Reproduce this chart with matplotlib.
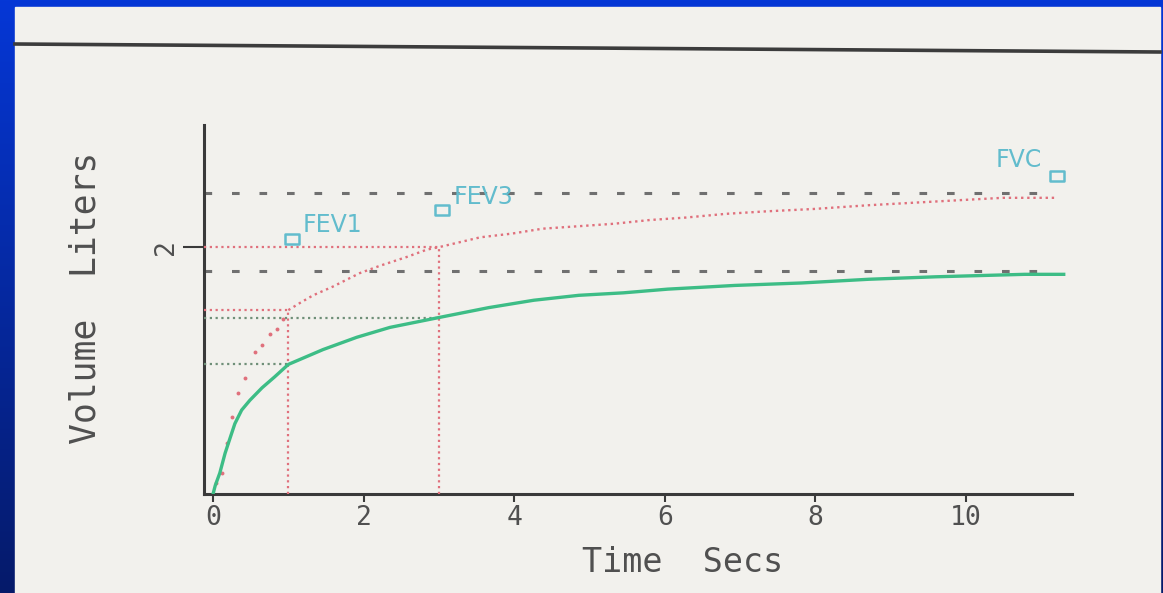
import numpy as np
import matplotlib
matplotlib.use("Agg")
import matplotlib.pyplot as plt
from matplotlib.path import Path
from matplotlib.patches import Rectangle
from matplotlib.colors import LinearSegmentedColormap

# ---------------- data ----------------
green_t = [0.00, 0.03, 0.09, 0.16, 0.23, 0.29, 0.38, 0.49, 0.65, 0.82, 1.00,
           1.46, 1.91, 2.35, 3.00, 3.66, 4.26, 4.86, 5.45, 6.04, 6.93, 7.82,
           8.71, 9.60, 10.78, 11.30]
green_v = [0.00, 0.07, 0.17, 0.33, 0.46, 0.57, 0.68, 0.76, 0.86, 0.95, 1.05,
           1.17, 1.27, 1.35, 1.43, 1.51, 1.57, 1.61, 1.63, 1.66, 1.69, 1.71,
           1.74, 1.76, 1.78, 1.78]

red_dots_t = [0.04, 0.12, 0.19, 0.25, 0.33, 0.42, 0.56, 0.65, 0.76, 0.85, 0.93]
red_dots_v = [0.09, 0.17, 0.41, 0.62, 0.82, 0.94, 1.15, 1.21, 1.30, 1.34, 1.42]

red_t = [1.00, 1.16, 1.33, 1.59, 1.95, 2.22, 2.57, 2.84, 3.00, 3.55, 3.97,
         4.38, 4.86, 5.33, 5.80, 6.28, 6.81, 7.34, 7.99, 8.71, 9.30, 9.89,
         10.49, 11.20]
red_v = [1.49, 1.55, 1.61, 1.68, 1.79, 1.85, 1.92, 1.98, 2.00, 2.08, 2.11,
         2.15, 2.17, 2.19, 2.22, 2.24, 2.27, 2.29, 2.31, 2.34, 2.36, 2.38,
         2.40, 2.40]

fev_times = [1, 3]
fev_red = [1.49, 2.00]
fev_green = [1.05, 1.43]
fvc_levels = [2.44, 1.81]
fvc_end = 11.2

marker_labels = ["FEV1", "FEV3", "FVC"]
marker_t = [1.045, 3.04, 11.21]
marker_v = [2.07, 2.30, 2.58]

x_ticks = [0, 2, 4, 6, 8, 10]
y_ticks = [2]

# ---------------- figure ----------------
W, H = 1163, 593
fig = plt.figure(figsize=(W / 100, H / 100), dpi=100)

bg = fig.add_axes([0, 0, 1, 1])
bg.axis("off")
bg.set_xlim(0, 1)
bg.set_ylim(0, 1)
grad = np.linspace(0, 1, 256).reshape(-1, 1)
cmap = LinearSegmentedColormap.from_list("b", ["#0537d6", "#061a6a"])
bg.imshow(grad, aspect="auto", cmap=cmap, extent=[0, 1, 0, 1], origin="upper")
bg.add_patch(Rectangle((15 / W, 0), (1160 - 15) / W, (H - 7) / H,
                       color="#f2f1ed", zorder=2))
bg.plot([15 / W, 1160 / W], [1 - 44 / H, 1 - 52 / H], color="#3c3c3c",
        lw=2.6, zorder=3)

ax = fig.add_axes([204 / W, 1 - 494 / H, (1072 - 204) / W, (494 - 125) / H])
ax.patch.set_alpha(0)
ax.set_xlim(-0.12, 11.41)
ax.set_ylim(0, 2.99)

for s in ["top", "right"]:
    ax.spines[s].set_visible(False)
for s in ["left", "bottom"]:
    ax.spines[s].set_color("#3a3a3a")
    ax.spines[s].set_linewidth(2.2)

mono = "DejaVu Sans Mono"
ax.set_xticks(x_ticks)
ax.set_xticklabels([str(v) for v in x_ticks], fontfamily=mono, fontsize=19,
                   color="#505050")
ax.set_yticks(y_ticks)
ax.set_yticklabels([str(v) for v in y_ticks], fontfamily=mono, fontsize=19,
                   color="#505050", rotation=90, va="center")
ax.tick_params(axis="x", length=6, width=1.5, color="#3a3a3a", pad=2)
ax.tick_params(axis="y", length=15, width=1.5, color="#3a3a3a", pad=3)

ax.set_xlabel("Time  Secs", fontfamily=mono, fontsize=24, color="#505050")
ax.xaxis.set_label_coords((683 - 204) / 868, (494 - 546) / 369)
ax.set_ylabel("Volume  Liters", fontfamily=mono, fontsize=25, color="#505050")
ax.yaxis.set_label_coords((102 - 204) / 868, (494 - 298) / 369)

x0 = -0.12
red_c = "#e0707c"
grn_ref_c = "#6f8f78"
dash_c = "#707070"

# FVC dashed levels
for lv in fvc_levels:
    ax.plot([x0, fvc_end], [lv, lv], color=dash_c, lw=2.2,
            linestyle=(0, (2.5, 6.5)), zorder=2)

# FEV reference lines
for t, rv, gv in zip(fev_times, fev_red, fev_green):
    ax.plot([t, t], [0, rv], color=red_c, lw=1.6, linestyle=(0, (1, 1.6)),
            zorder=3)
    ax.plot([x0, t], [rv, rv], color=red_c, lw=1.6, linestyle=(0, (1, 1.6)),
            zorder=3)
    ax.plot([x0, t], [gv, gv], color=grn_ref_c, lw=1.6,
            linestyle=(0, (1, 1.6)), zorder=3)

# predicted (red) curve
ax.plot(red_dots_t, red_dots_v, linestyle="none", marker="o", ms=2.8,
        color=red_c, mec="none", zorder=4)
ax.plot(red_t, red_v, color=red_c, lw=1.7, linestyle=(0, (1, 1.6)), zorder=4)

# measured (green) curve
ax.plot(green_t, green_v, color="#3dbd86", lw=2.4, zorder=5)

# markers and labels
rect = Path([(-1.5, -1), (1.5, -1), (1.5, 1), (-1.5, 1), (-1.5, -1)],
            [Path.MOVETO, Path.LINETO, Path.LINETO, Path.LINETO,
             Path.CLOSEPOLY])
lab_c = "#62bccd"
ax.plot(marker_t, marker_v, linestyle="none", marker=rect, ms=10,
        mfc="none", mec=lab_c, mew=1.8, clip_on=False, zorder=6)
ax.text(marker_t[0] + 0.15, marker_v[0] + 0.01, marker_labels[0],
        color=lab_c, fontsize=17, ha="left", va="bottom")
ax.text(marker_t[1] + 0.15, marker_v[1] + 0.01, marker_labels[1],
        color=lab_c, fontsize=17, ha="left", va="bottom")
ax.text(marker_t[2] - 0.2, marker_v[2] + 0.03, marker_labels[2],
        color=lab_c, fontsize=17, ha="right", va="bottom")

fig.savefig("out.png", dpi=100)
